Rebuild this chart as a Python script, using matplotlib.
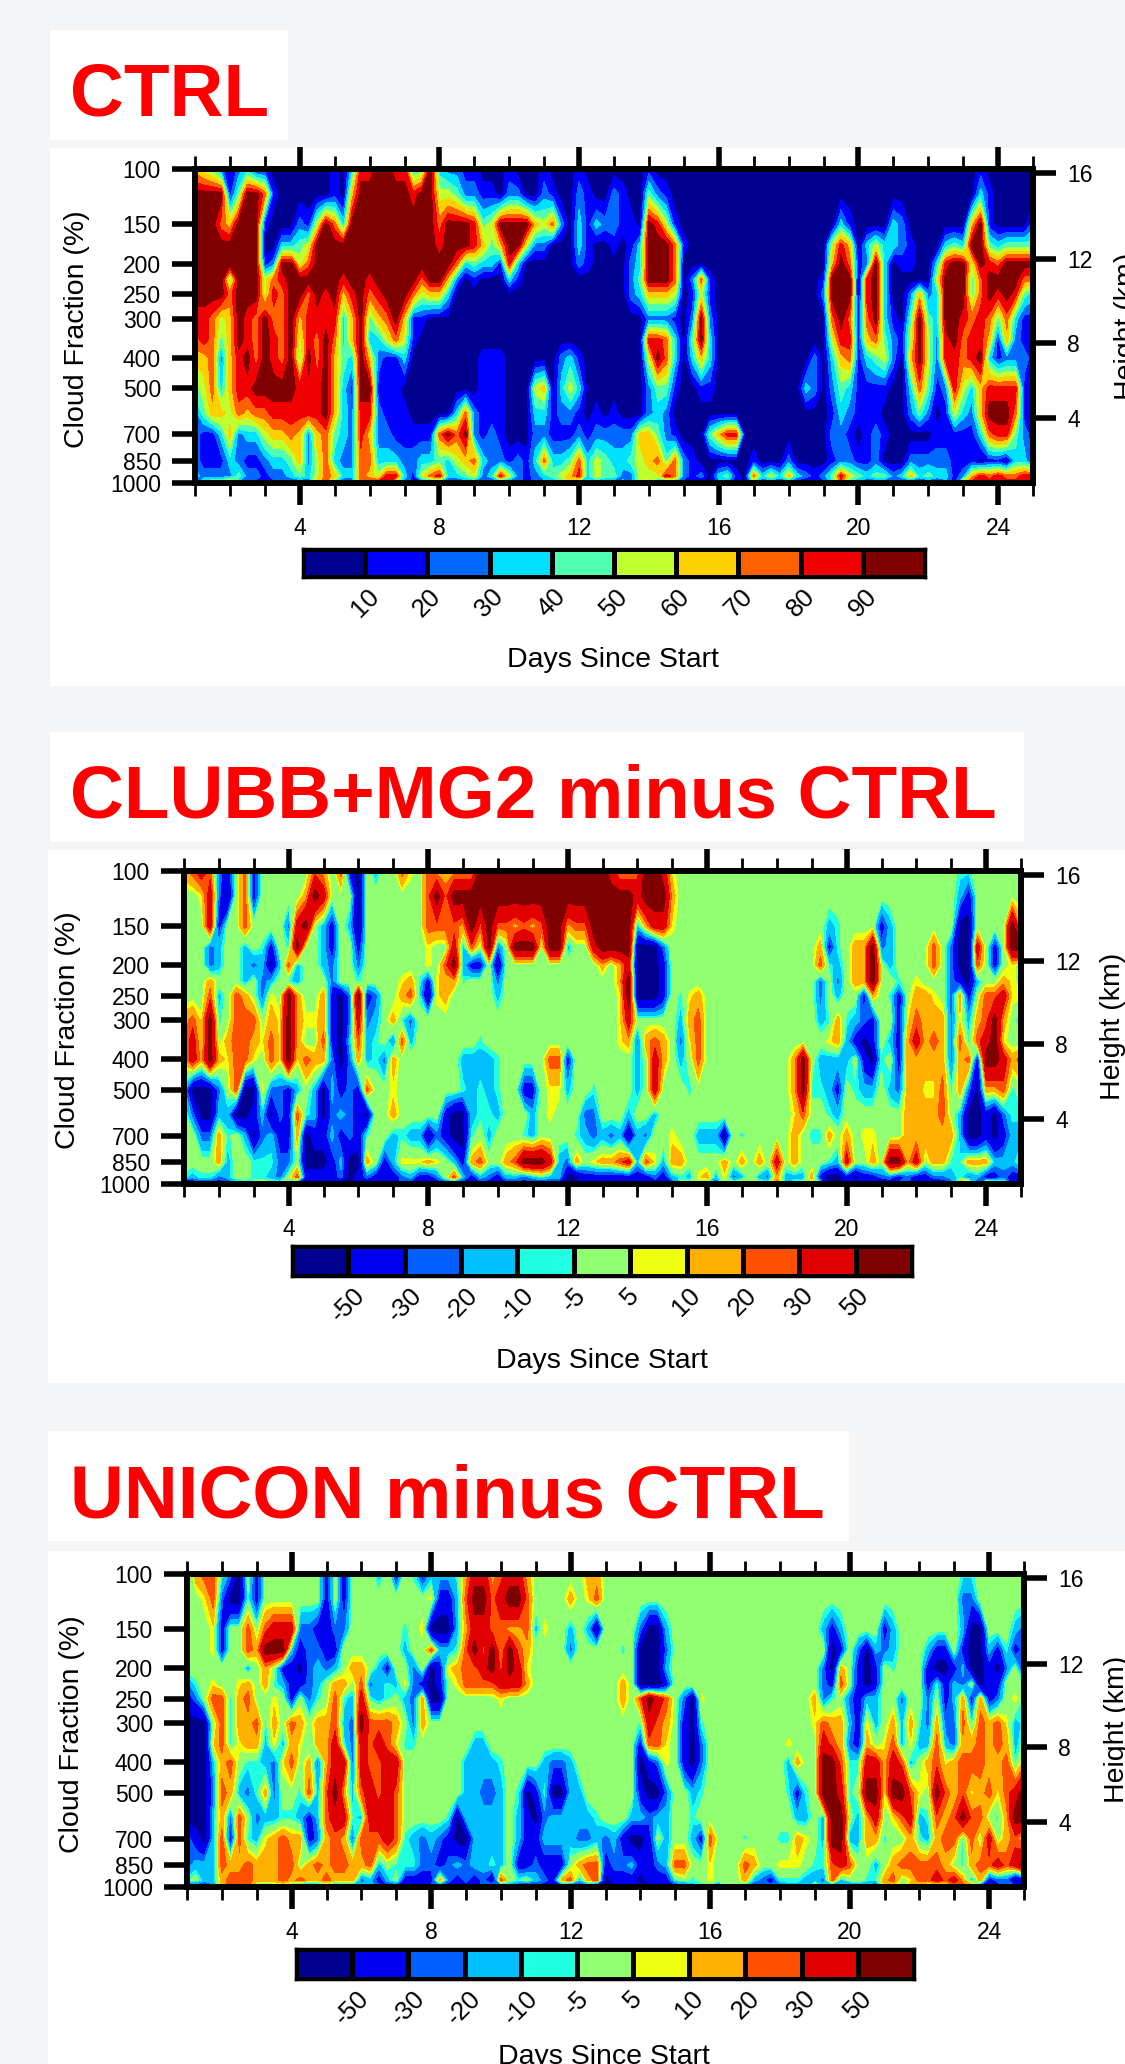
#!/usr/bin/env python3
"""
Cloud fraction time-height panels: CTRL and two experiments minus CTRL.
"""

import matplotlib

matplotlib.use("Agg")
import matplotlib.pyplot as plt
import numpy as np
from matplotlib.colors import BoundaryNorm, ListedColormap
from matplotlib.patches import Rectangle
from matplotlib.ticker import NullLocator

plt.rcParams["font.family"] = ["Liberation Sans", "DejaVu Sans"]

W, H = 1125, 2064

days = np.arange(1, 25.25, 0.25)
pressure = [100, 120, 150, 175, 200, 225, 250, 300, 350, 400, 500, 600, 700, 850, 950, 1000]
p_ticks = [100, 150, 200, 250, 300, 400, 500, 700, 850, 1000]
height_ticks = [16, 12, 8, 4]
height_pressure = [103, 194, 357, 619]
day_major = [4, 8, 12, 16, 20, 24]

ctrl_levels = [10, 20, 30, 40, 50, 60, 70, 80, 90]
diff_levels = [-50, -30, -20, -10, -5, 5, 10, 20, 30, 50]
ctrl_band_value = [5, 15, 25, 35, 45, 55, 65, 75, 85, 95]
diff_band_value = [-60, -40, -25, -15, -7.5, 0, 7.5, 15, 25, 40, 60]

ctrl_colors = ["#000090", "#0000ff", "#0068ff", "#00e0ff", "#50ffb0",
               "#c0ff30", "#ffd000", "#ff6000", "#f00000", "#800000"]
diff_colors = ["#000090", "#0000f0", "#0060ff", "#00c0ff", "#20ffe0", "#90ff70",
               "#f0ff10", "#ffb000", "#ff5000", "#e00000", "#800000"]

# one string per pressure level, one band index per quarter day (a = band 10),
# a group of four per day from day 1, last char is day 25
ctrl_bands = [
    "6542 0231 1000 0000 1038 8998 8349 3221 1000 1000 1000 1000 0000 1000 0000 0000 0000 0000 0000 0000 0000 0000 0010 0000 0",
    "9999 1499 7100 0000 1069 9999 9899 5542 2110 2200 2100 2100 2100 4210 0000 0000 0000 0000 0000 0000 0000 0000 0031 0000 0",
    "9997 6999 1000 2159 7399 9999 9999 7999 8459 9996 5720 3132 2110 9851 0000 0000 0000 0000 0031 0000 3200 0000 0691 0000 2",
    "9999 9999 0033 4599 9999 9999 9999 8999 8646 9952 2000 3100 1013 9997 1000 0000 0000 0000 0586 0353 3210 0034 3994 3444 4",
    "9999 9999 1299 5799 9999 9999 9999 9973 4331 8300 0000 2100 0023 9997 0000 0000 0000 0000 0697 1293 0110 0389 9598 7999 9",
    "9999 4999 5789 9999 9899 8999 9979 9620 1000 3100 0000 0000 0024 9997 0271 0000 0000 0000 1999 0893 0000 0599 9479 9997 7",
    "9999 7999 5879 9798 9689 7899 9756 6300 0000 0000 0000 0000 0023 6665 0151 0000 0000 0000 2999 0893 0026 2399 9479 8984 3",
    "8875 6987 9779 6888 8369 4679 6110 0000 0000 0000 0000 0000 0000 2221 0292 0000 0000 0000 0797 1793 1049 4399 8787 4731 1",
    "7874 6987 9879 5879 7369 3357 5100 0000 0000 0000 0000 0000 0000 8873 0493 0000 0000 0000 0588 1674 2159 5289 7886 1621 1",
    "6672 6897 9879 4979 6439 6211 3000 0000 0111 0000 0023 1000 0000 5973 0363 0000 0000 0002 0367 1345 2069 5288 7893 1222 1",
    "4573 6889 9999 8889 6319 9111 0000 0000 0111 0005 6035 3000 0000 2441 0011 0000 0000 0032 0243 1111 0037 4128 5368 8881 1",
    "2466 5767 7888 8889 6328 8211 1000 0037 2111 0003 3122 1010 1000 2320 0000 0000 0000 0000 0132 1110 0024 2015 3269 9971 1",
    "2113 6233 5667 6267 4328 6221 1111 7979 2121 0002 2111 2122 2226 6421 0004 6880 0000 0000 0221 0121 0000 0111 1137 8842 1",
    "2111 3211 2334 6257 3227 7333 2233 4356 7322 1213 7334 7354 3345 6747 2100 0000 1000 2000 0122 1120 0022 2221 1101 1033 1",
    "3222 2422 1223 4357 6337 6588 3157 8334 5238 5212 3456 8354 4225 5587 2120 3410 7353 6321 2485 4344 2363 4331 2687 8778 8",
    "1455 7221 1111 1167 3117 8884 2111 2111 2211 1212 2236 2222 1325 6212 1100 2210 3111 1000 1373 2111 1101 1121 6888 8888 8",
]

clubb_bands = [
    "7898 2158 1555 5558 7581 0535 5865 8777 77aa aaaa aaaa aaaa a977 8aa9 6555 5555 5555 5555 5555 5555 5555 5555 5445 5555 5",
    "5569 2058 1555 557a 9555 0555 5555 8a8a aaaa aaaa aaaa aaaa aaaa 9aaa 7555 5555 5555 5555 5555 5555 5555 5555 5315 5555 5",
    "5559 1558 5555 29a5 3153 0555 5555 8888 7a8a 8878 78aa 788a aaaa 3799 6555 5555 5555 5555 5534 5555 1355 5555 5005 555a 7",
    "5552 3553 5415 4a55 3155 1555 5555 6559 385a 25aa a5aa 3559 aaaa 0002 5555 5555 5555 5555 5714 577a 2355 5585 2009 515a a",
    "5552 3553 2303 8355 3255 2555 5555 658a 3115 0555 5555 5555 7579 0001 5555 5555 5555 5555 5843 577a 5355 5585 2008 5156 5",
    "5557 5553 5235 4355 5255 4555 5674 1677 4555 2555 5555 5555 557a 0001 5555 5555 5555 5555 5252 577a 5545 6555 2103 5576 5",
    "5558 3587 5265 a755 7102 a125 5784 0675 5555 3555 5555 5555 556a 0001 5467 5555 5555 5555 5253 5517 5415 7765 2715 8896 6",
    "786a 4588 8576 a766 7102 9235 7425 5555 5555 5555 5555 5555 5569 5555 5378 5555 5555 5555 5347 4321 5516 8777 2637 8a75 3",
    "796a 5788 7686 a755 8103 8345 2835 5555 5545 5555 5555 5555 5567 2787 5268 5555 5555 5555 5567 3101 5317 9787 2848 9a65 5",
    "797a 7688 6586 a687 7202 7342 7555 5555 3333 4555 5588 1555 5555 3597 5358 5555 5555 557a 5333 3510 4517 7777 2781 aa97 8",
    "3000 2580 0622 1353 0312 1855 6555 5555 4343 4551 1566 3554 5555 3595 5545 5555 5555 557a 4431 5433 5327 7668 4720 7784 5",
    "5200 3300 1302 1843 0232 1055 7555 5510 0344 3555 3565 5522 5553 5535 5555 5555 5555 5568 5543 5555 5557 7778 5300 1024 4",
    "5522 7453 0231 1701 1312 1455 3433 0210 0453 5554 3555 5432 3230 3255 6553 3305 4555 5575 4475 7566 5557 7777 7300 1013 3",
    "5555 7355 4442 2500 0130 0751 3666 7653 1785 578a aa93 2756 7789 3863 7755 5575 7575 9575 5543 9557 5aa7 9577 4477 7333 5",
    "4344 2355 4432 5811 1120 1211 1231 1258 3132 1332 3433 0011 1111 1121 3436 7362 3532 7333 7100 1011 2212 1122 3423 1121 1",
    "0011 1123 5555 5100 1100 1001 1212 1111 1111 0111 1111 0110 0111 0011 1555 3155 7555 8355 5400 1111 0122 0001 1880 8761 1",
]

unicon_bands = [
    "3788 4205 1555 5555 1515 5535 1541 3334 7997 8997 5555 5577 5555 5555 5555 5555 5555 5555 5555 5555 5555 5555 5445 5555 5",
    "5568 2004 1555 5555 1515 5555 5555 6113 8aa8 9aa8 5555 7568 5555 5555 5555 5555 5555 5555 5555 5555 5555 5555 5225 5555 5",
    "5556 1558 5899 9221 1225 5555 5456 0003 7998 8778 3655 3530 5555 2003 5555 5555 5555 5555 5313 5555 1355 5555 5300 5553 2",
    "5556 1558 7aaa 3122 1155 5555 5355 8334 8a8a 7a87 5555 2555 5545 0002 5555 5555 5555 5555 5501 5203 2355 5311 5100 3141 2",
    "5555 5553 5751 1023 2357 7531 5525 0167 889a 8a96 5555 5555 5555 0003 5555 5555 5555 5555 5207 5101 5455 5100 1300 1025 1",
    "2456 5567 5743 1123 5775 8234 3621 0156 8888 9997 5555 5555 5575 0001 5555 5555 5555 5555 5218 5101 5555 5141 3250 1155 4",
    "1258 8478 5565 1524 5843 9434 5327 0055 5555 6555 5555 5555 5575 8a98 5206 5555 5555 5555 7245 2133 5525 5251 3717 1256 4",
    "0005 8477 8475 8757 7832 a888 7527 5555 5555 5555 5555 5555 5555 4987 5104 5555 5555 5555 6877 3163 5737 4272 2848 7863 4",
    "0006 8467 7363 7647 7942 9898 6445 5555 5335 5555 5555 5555 5555 1886 5102 5555 5555 5655 5987 2175 6836 3383 2778 7873 5",
    "0003 7854 4326 8572 7992 9889 9555 5555 3333 4555 5322 3555 5555 0126 5102 5555 5555 5375 5aa8 4499 7983 5786 7888 7784 7",
    "0002 8732 4725 5483 8a73 8989 8555 5555 3322 3540 1400 3355 5555 1002 5534 5555 5555 5414 5aa9 45aa 6aa8 65a8 7867 8689 a",
    "0003 7285 2334 4313 8994 3999 8555 5540 3333 3531 0233 3334 5553 3233 5545 5555 5555 5533 53aa 5379 5689 3487 8a88 547a a",
    "2103 8184 3678 7712 7872 8889 8432 3210 0333 3531 1333 3223 2310 0153 5531 8555 4555 4476 53aa 3377 4557 4378 8485 9578 6",
    "2333 8778 7778 8578 7887 7835 4442 2123 2334 3511 2111 5788 1223 1123 8855 6555 8755 6665 4489 8553 5788 8887 5478 8989 a",
    "4533 7888 7778 7877 8777 2313 5111 1721 2120 8545 3217 8378 0111 0111 4545 6555 7321 4443 3283 5544 7856 8898 9737 1220 1",
    "1112 7888 3344 3111 3122 3321 1010 2112 1124 1210 1101 0110 0011 1001 1133 3155 3122 1332 7312 1220 7657 5334 7881 0122 1",
]

titles = ["CTRL", "CLUBB+MG2 minus CTRL", "UNICON minus CTRL"]


def px_axes(fig, x0, y0, x1, y1, **kw):
    return fig.add_axes([x0 / W, 1 - y1 / H, (x1 - x0) / W, (y1 - y0) / H], **kw)


def px_text(fig, x, y, s, **kw):
    fig.text(x / W, 1 - y / H, s, **kw)


def px_box(fig, x0, y0, x1, y1):
    fig.add_artist(Rectangle((x0 / W, 1 - y1 / H), (x1 - x0) / W, (y1 - y0) / H,
                             transform=fig.transFigure, fc="white", ec="none", zorder=-5))


def decode(rows, band_value):
    out = []
    for i, row in enumerate(rows):
        chars = row.replace(" ", "")
        if len(chars) != len(days):
            raise ValueError(f"row {i} has {len(chars)} values: {row}")
        out.append([band_value[int(c, 16)] for c in chars])
    return np.array(out, dtype=float)


def draw_panel(fig, rows, band_value, levels, colors, cfg):
    cmap = ListedColormap(colors)
    norm = BoundaryNorm(levels, len(colors), extend="both")
    data = decode(rows, band_value)

    px_box(fig, *cfg["title_box"])
    px_box(fig, *cfg["panel_box"])
    px_text(fig, 70, cfg["title_y"], cfg["title"], color="#ff0000", fontsize=53.7,
            fontweight="bold", va="baseline", ha="left")

    ax = px_axes(fig, *cfg["ax"])
    ax.contourf(days, pressure, data, levels=levels, cmap=cmap, norm=norm, extend="both")
    ax.set_yscale("log")
    ax.set_ylim(1000, 100)
    ax.set_xlim(1, 25)
    ax.yaxis.set_minor_locator(NullLocator())
    ax.set_yticks(p_ticks)
    ax.set_yticklabels([str(p) for p in p_ticks], fontsize=16.5)
    ax.set_xticks(day_major)
    ax.set_xticks(np.arange(1, 26), minor=True)
    ax.set_xticklabels([str(d) for d in day_major], fontsize=16.5)
    ax.tick_params(axis="y", which="major", length=16.5, width=4, pad=8)
    ax.tick_params(axis="x", which="major", top=True, length=15.5, width=4, pad=9)
    ax.tick_params(axis="x", which="minor", top=True, length=9.5, width=2)
    for sp in ax.spines.values():
        sp.set_linewidth(4.3)

    ax2 = ax.twinx()
    ax2.set_yscale("log")
    ax2.set_ylim(1000, 100)
    ax2.yaxis.set_minor_locator(NullLocator())
    ax2.set_yticks(height_pressure)
    ax2.set_yticklabels([str(h) for h in height_ticks], fontsize=16.5)
    ax2.tick_params(axis="y", which="major", length=16.5, width=4, pad=8)
    for sp in ax2.spines.values():
        sp.set_visible(False)

    cax = px_axes(fig, *cfg["bar"])
    cax.pcolormesh(np.arange(len(colors) + 1), [0, 1],
                   np.arange(len(colors)).reshape(1, -1), cmap=cmap,
                   vmin=-0.5, vmax=len(colors) - 0.5, edgecolors="black", linewidth=2.2)
    cax.set_yticks([])
    cax.set_xticks(np.arange(1, len(colors)))
    cax.set_xticklabels([str(v) for v in levels], rotation=45, ha="center", fontsize=18.5)
    cax.tick_params(axis="x", length=0, pad=5)
    for sp in cax.spines.values():
        sp.set_linewidth(2.5)

    px_text(fig, cfg["xlabel"][0], cfg["xlabel"][1], "Days Since Start", fontsize=20.5,
            ha="center", va="center")
    px_text(fig, cfg["ylabel"][0], cfg["ylabel"][1], "Cloud Fraction (%)", fontsize=20.5,
            ha="center", va="center", rotation=90)
    px_text(fig, cfg["rlabel"][0], cfg["rlabel"][1], "Height (km)", fontsize=20.5,
            ha="center", va="center", rotation=90)


def main():
    fig = plt.figure(figsize=(W / 100, H / 100), dpi=100, facecolor="#f4f5f7")

    draw_panel(fig, ctrl_bands, ctrl_band_value, ctrl_levels, ctrl_colors, {
        "title": titles[0], "title_y": 116,
        "title_box": (50, 30, 288, 140), "panel_box": (50, 148, 1125, 686),
        "ax": (195, 169, 1033, 483), "bar": (303, 549, 925, 577),
        "xlabel": (613, 660), "ylabel": (77, 329), "rlabel": (1127, 326),
    })
    draw_panel(fig, clubb_bands, diff_band_value, diff_levels, diff_colors, {
        "title": titles[1], "title_y": 818,
        "title_box": (50, 732, 1024, 842), "panel_box": (48, 850, 1125, 1383),
        "ax": (184, 871, 1021, 1184), "bar": (292, 1246, 912, 1276),
        "xlabel": (602, 1361), "ylabel": (68, 1030), "rlabel": (1113, 1026),
    })
    draw_panel(fig, unicon_bands, diff_band_value, diff_levels, diff_colors, {
        "title": titles[2], "title_y": 1517,
        "title_box": (48, 1431, 849, 1541), "panel_box": (48, 1551, 1125, 2064),
        "ax": (187, 1574, 1024, 1887), "bar": (296, 1949, 914, 1979),
        "xlabel": (604, 2057), "ylabel": (72, 1734), "rlabel": (1117, 1729),
    })

    fig.savefig("out.png", dpi=100, facecolor=fig.get_facecolor())
    plt.close(fig)


if __name__ == "__main__":
    main()
